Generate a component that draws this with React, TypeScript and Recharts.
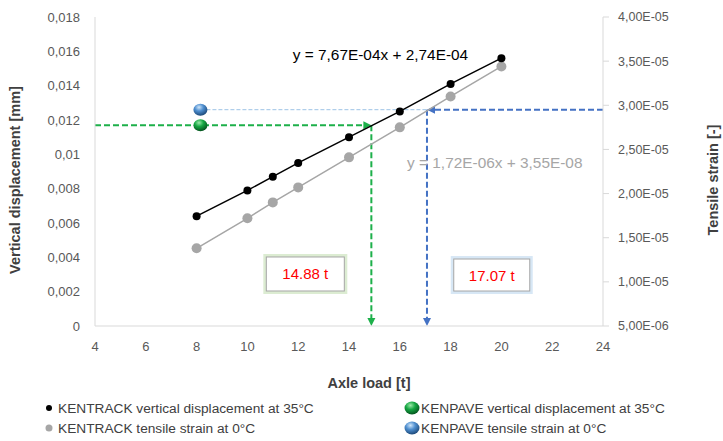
import {
  ComposedChart,
  Label,
  Line,
  ReferenceDot,
  ReferenceLine,
  Scatter,
  XAxis,
  YAxis,
} from 'recharts';

// axle load [t] and KENTRACK results
const axleLoad = [8, 10, 11, 12, 14, 16, 18, 20];
const kentrackDisp = [0.0064, 0.0079, 0.0087, 0.0095, 0.011, 0.0125, 0.0141, 0.0156];
const kentrackStrain = [1.38e-5, 1.72e-5, 1.9e-5, 2.07e-5, 2.41e-5, 2.75e-5, 3.1e-5, 3.44e-5];

// KENPAVE single results
const kenpaveDisp = [{ x: 8.15, y: 0.0117 }];
const kenpaveStrain = [{ x: 8.15, y: 2.95e-5 }];

// equivalent axle loads found on the regression lines
const dispLoad = 14.88;
const strainLoad = 17.07;

const loadTicks = [4, 6, 8, 10, 12, 14, 16, 18, 20, 22, 24];
const dispTicks = [0, 0.002, 0.004, 0.006, 0.008, 0.01, 0.012, 0.014, 0.016, 0.018];
const strainTicks = [5e-6, 1e-5, 1.5e-5, 2e-5, 2.5e-5, 3e-5, 3.5e-5, 4e-5];

const dispEquation = 'y = 7,67E-04x + 2,74E-04';
const strainEquation = 'y = 1,72E-06x + 3,55E-08';

const FONT = '"Liberation Sans", Arial, sans-serif';
const GREEN = '#1db04a';
const BLUE = '#4472c4';
const GRAY = '#a6a6a6';
const AXIS = '#d9d9d9';

const chartData = axleLoad.map((x, i) => ({
  x,
  disp: kentrackDisp[i],
  strain: kentrackStrain[i],
}));

function fmtDisp(v: number) {
  return String(v).replace('.', ',');
}

function fmtSci(v: number) {
  const [m, e] = v.toExponential(2).split('e');
  const n = parseInt(e, 10);
  return `${m.replace('.', ',')}E${n < 0 ? '-' : '+'}${String(Math.abs(n)).padStart(2, '0')}`;
}

function ArrowLine(props: any) {
  const { x1, y1, x2, y2, color } = props;
  const len = Math.hypot(x2 - x1, y2 - y1) || 1;
  const ux = (x2 - x1) / len;
  const uy = (y2 - y1) / len;
  const head = 8;
  const bx = x2 - ux * head;
  const by = y2 - uy * head;
  return (
    <g>
      <line
        x1={x1}
        y1={y1}
        x2={bx}
        y2={by}
        stroke={color}
        strokeWidth={2}
        strokeDasharray="6 3"
      />
      <polygon
        points={`${x2},${y2} ${bx - uy * 4},${by + ux * 4} ${bx + uy * 4},${by - ux * 4}`}
        fill={color}
      />
    </g>
  );
}

function Sphere({ cx, cy, id, rx = 7, ry = 6 }: any) {
  return <ellipse cx={cx} cy={cy} rx={rx} ry={ry} fill={`url(#${id})`} />;
}

function SphereDefs() {
  return (
    <defs>
      <radialGradient id="sphGreen" cx="0.4" cy="0.3" r="0.7">
        <stop offset="0%" stopColor="#9be8a8" />
        <stop offset="45%" stopColor="#16a843" />
        <stop offset="100%" stopColor="#05551f" />
      </radialGradient>
      <radialGradient id="sphBlue" cx="0.4" cy="0.3" r="0.7">
        <stop offset="0%" stopColor="#cfe6fa" />
        <stop offset="45%" stopColor="#4f8fd0" />
        <stop offset="100%" stopColor="#1d4a7a" />
      </radialGradient>
    </defs>
  );
}

function ResultBox({ cx, cy, text, glow, w, h }: any) {
  return (
    <g>
      <rect
        x={cx - w / 2}
        y={cy - h / 2}
        width={w}
        height={h}
        fill="#fff"
        stroke={glow}
        strokeWidth={6}
        strokeOpacity={0.6}
      />
      <rect x={cx - w / 2} y={cy - h / 2} width={w} height={h} fill="#fff" stroke="#a6a6a6" />
      <text
        x={cx}
        y={cy}
        textAnchor="middle"
        dominantBaseline="central"
        fill="#ff0000"
        fontSize={15}
        fontFamily={FONT}
      >
        {text}
      </text>
    </g>
  );
}

function EqText({ cx, cy, text, color }: any) {
  return (
    <text
      x={cx}
      y={cy}
      textAnchor="middle"
      dominantBaseline="central"
      fill={color}
      fontSize={15.4}
      fontFamily={FONT}
    >
      {text}
    </text>
  );
}

const titleStyle = {
  fill: '#404040',
  fontSize: 14.5,
  fontWeight: 700,
  fontFamily: FONT,
};

const tickStyle = { fill: '#595959', fontSize: 13, fontFamily: FONT };
const strainTickStyle = { fill: '#595959', fontSize: 12.5, fontFamily: FONT };

const legendItems = [
  { label: 'KENTRACK vertical displacement at 35°C', kind: 'dot', color: '#000', r: 3, col: 0, row: 0 },
  { label: 'KENPAVE vertical displacement at 35°C', kind: 'sphere', id: 'sphGreen', col: 1, row: 0 },
  { label: 'KENTRACK tensile strain at 0°C', kind: 'dot', color: GRAY, r: 3.5, col: 0, row: 1 },
  { label: 'KENPAVE tensile strain at 0°C', kind: 'sphere', id: 'sphBlue', col: 1, row: 1 },
];

function ChartLegend() {
  return (
    <div style={{ position: 'absolute', left: 0, top: 0, width: 723, height: 441, pointerEvents: 'none' }}>
      {legendItems.map((it) => {
        const left = it.col === 0 ? 42 : 404;
        const top = it.row === 0 ? 399 : 419;
        return (
          <div
            key={it.label}
            style={{
              position: 'absolute',
              left,
              top,
              height: 18,
              display: 'flex',
              alignItems: 'center',
              fontFamily: FONT,
              fontSize: 13.7,
              color: '#404040',
              whiteSpace: 'nowrap',
            }}
          >
            <svg width={16} height={16} style={{ marginRight: it.kind === 'dot' ? 0 : 1 }}>
              <SphereDefs />
              {it.kind === 'dot' ? (
                <circle cx={7} cy={8} r={it.r} fill={it.color} />
              ) : (
                <Sphere cx={8} cy={8} id={it.id} rx={7.5} ry={6.5} />
              )}
            </svg>
            <span>{it.label}</span>
          </div>
        );
      })}
    </div>
  );
}

export default function App() {
  return (
    <div style={{ position: 'absolute', left: 0, top: 0, width: 723, height: 441, background: '#fff' }}>
      <ComposedChart
        width={723}
        height={441}
        data={chartData}
        margin={{ top: 17, right: 10, left: 15, bottom: 85 }}
      >
        <SphereDefs />
        <XAxis
          dataKey="x"
          type="number"
          domain={[4, 24]}
          ticks={loadTicks}
          interval={0}
          tick={tickStyle}
          tickLine={false}
          tickSize={0}
          tickMargin={16}
          axisLine={{ stroke: AXIS }}
          height={30}
        >
          <Label
            content={({ viewBox }: any) => (
              <text
                x={viewBox.x + viewBox.width / 2 + 20}
                y={viewBox.y + 57}
                textAnchor="middle"
                dominantBaseline="central"
                style={titleStyle}
              >
                Axle load [t]
              </text>
            )}
          />
        </XAxis>
        <YAxis
          yAxisId="left"
          domain={[0, 0.018]}
          ticks={dispTicks}
          interval={0}
          tickFormatter={fmtDisp}
          tick={tickStyle}
          tickLine={false}
          tickSize={0}
          tickMargin={15}
          axisLine={{ stroke: AXIS }}
          width={80}
        >
          <Label
            content={({ viewBox }: any) => {
              const x = viewBox.x;
              const y = viewBox.y + viewBox.height / 2 + 8.5;
              return (
                <text
                  x={x}
                  y={y}
                  transform={`rotate(-90 ${x} ${y})`}
                  textAnchor="middle"
                  dominantBaseline="central"
                  style={titleStyle}
                >
                  Vertical displacement [mm]
                </text>
              );
            }}
          />
        </YAxis>
        <YAxis
          yAxisId="right"
          orientation="right"
          domain={[5e-6, 4e-5]}
          ticks={strainTicks}
          interval={0}
          tickFormatter={fmtSci}
          tick={strainTickStyle}
          tickLine={{ stroke: AXIS }}
          tickSize={6}
          tickMargin={9}
          axisLine={{ stroke: AXIS }}
          width={110}
        >
          <Label
            content={({ viewBox }: any) => {
              const x = viewBox.x + 110;
              const y = viewBox.y + viewBox.height / 2 + 8.5;
              return (
                <text
                  x={x}
                  y={y}
                  transform={`rotate(-90 ${x} ${y})`}
                  textAnchor="middle"
                  dominantBaseline="central"
                  style={titleStyle}
                >
                  Tensile strain [-]
                </text>
              );
            }}
          />
        </YAxis>

        <ReferenceDot
          yAxisId="left"
          x={15.24}
          y={0.0158}
          ifOverflow="visible"
          shape={(p: any) => <EqText cx={p.cx} cy={p.cy} text={dispEquation} color="#000" />}
        />
        <ReferenceDot
          yAxisId="left"
          x={19.74}
          y={0.0095}
          ifOverflow="visible"
          shape={(p: any) => <EqText cx={p.cx} cy={p.cy} text={strainEquation} color={GRAY} />}
        />

        <ReferenceLine
          yAxisId="right"
          segment={[
            { x: kenpaveStrain[0].x, y: kenpaveStrain[0].y },
            { x: strainLoad, y: kenpaveStrain[0].y },
          ]}
          stroke="#9dc3e6"
          strokeWidth={1}
          strokeDasharray="4 2"
          ifOverflow="visible"
        />
        <ReferenceLine
          yAxisId="left"
          segment={[
            { x: 4, y: kenpaveDisp[0].y },
            { x: dispLoad, y: kenpaveDisp[0].y },
          ]}
          ifOverflow="visible"
          shape={(p: any) => <ArrowLine {...p} color={GREEN} />}
        />
        <ReferenceLine
          yAxisId="left"
          segment={[
            { x: dispLoad, y: kenpaveDisp[0].y },
            { x: dispLoad, y: 0 },
          ]}
          ifOverflow="visible"
          shape={(p: any) => <ArrowLine {...p} color={GREEN} />}
        />
        <ReferenceLine
          yAxisId="right"
          segment={[
            { x: 24, y: kenpaveStrain[0].y },
            { x: strainLoad, y: kenpaveStrain[0].y },
          ]}
          ifOverflow="visible"
          shape={(p: any) => <ArrowLine {...p} color={BLUE} />}
        />
        <ReferenceLine
          yAxisId="right"
          segment={[
            { x: strainLoad, y: kenpaveStrain[0].y },
            { x: strainLoad, y: 5e-6 },
          ]}
          ifOverflow="visible"
          shape={(p: any) => <ArrowLine {...p} color={BLUE} />}
        />

        <Line
          yAxisId="right"
          dataKey="strain"
          stroke={GRAY}
          strokeWidth={1.5}
          dot={{ r: 5, fill: GRAY, stroke: GRAY, strokeWidth: 0 }}
          activeDot={false}
          isAnimationActive={false}
        />
        <Line
          yAxisId="left"
          dataKey="disp"
          stroke="#000"
          strokeWidth={1.5}
          dot={{ r: 4, fill: '#000', stroke: '#000', strokeWidth: 0 }}
          activeDot={false}
          isAnimationActive={false}
        />
        <Scatter
          yAxisId="left"
          data={kenpaveDisp}
          dataKey="y"
          isAnimationActive={false}
          shape={(p: any) => <Sphere cx={p.cx} cy={p.cy} id="sphGreen" />}
        />
        <Scatter
          yAxisId="right"
          data={kenpaveStrain}
          dataKey="y"
          isAnimationActive={false}
          shape={(p: any) => <Sphere cx={p.cx} cy={p.cy} id="sphBlue" />}
        />

        <ReferenceDot
          yAxisId="left"
          x={12.28}
          y={0.00303}
          ifOverflow="visible"
          shape={(p: any) => (
            <ResultBox cx={p.cx} cy={p.cy} w={78} h={34} glow="#c5e0b4" text={`${dispLoad} t`} />
          )}
        />
        <ReferenceDot
          yAxisId="left"
          x={19.62}
          y={0.00297}
          ifOverflow="visible"
          shape={(p: any) => (
            <ResultBox cx={p.cx} cy={p.cy} w={76} h={32} glow="#bdd7ee" text={`${strainLoad} t`} />
          )}
        />
      </ComposedChart>
      <ChartLegend />
    </div>
  );
}
